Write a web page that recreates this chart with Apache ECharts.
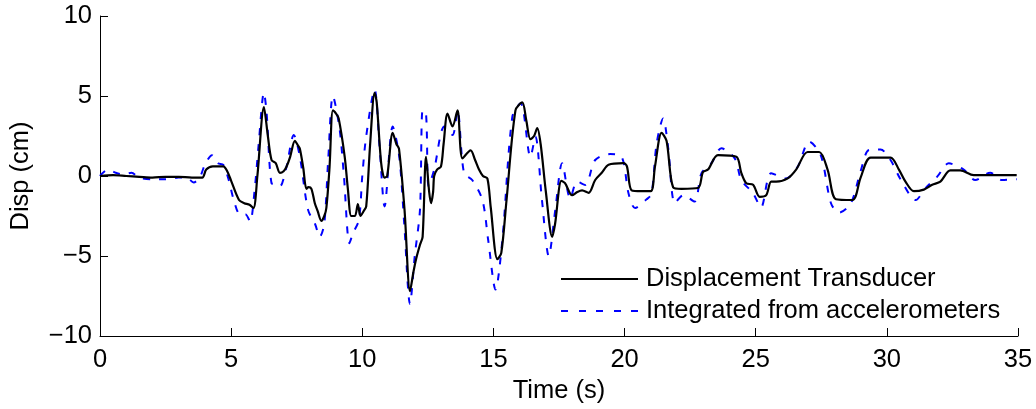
<!DOCTYPE html>
<html>
<head>
<meta charset="utf-8">
<script src="https://cdn.jsdelivr.net/npm/echarts@6/dist/echarts.min.js"></script>
<style>html,body{margin:0;padding:0;background:#fff}#c{width:1036px;height:409px}</style>
</head>
<body>
<div id="c"></div>
<script>
// Displacement Transducer: [time (s), disp (cm)]
const transducer = [
[0,0],[0.5,0.05],[1,0],[1.5,-0.05],[2,-0.1],[2.5,-0.05],[3,-0.05],[3.5,-0.1],[3.9,-0.1],[4.05,0.4],[4.3,0.6],[4.7,0.6],[4.85,0.3],
[5.0,-0.3],[5.3,-1.5],[5.5,-1.7],[5.7,-1.8],[5.85,-2.0],[6.0,0.0],[6.25,4.3],[6.4,2.5],[6.54,1.0],[6.7,0.8],[6.86,0.2],[7.0,0.3],
[7.11,0.58],[7.25,1.2],[7.43,2.2],[7.55,1.9],[7.62,1.7],[7.75,0.5],[7.87,-0.8],[7.95,-0.7],[8.06,-0.8],[8.19,-1.7],[8.3,-2.2],
[8.44,-2.8],[8.55,-2.5],[8.63,-2.0],[8.75,0.5],[8.88,4.1],[9.0,3.9],[9.1,3.6],[9.33,1.2],[9.45,-0.8],[9.58,-2.5],[9.72,-2.5],
[9.83,-1.75],[9.93,-2.5],[10.05,-2.2],[10.15,-1.9],[10.3,2.0],[10.47,5.2],[10.55,4.6],[10.72,0.8],[10.85,-0.1],[10.95,0.0],
[11.16,2.7],[11.3,2.0],[11.4,1.7],[11.61,-2.1],[11.82,-7.2],[11.95,-6.0],[12.05,-5.2],[12.2,-4.3],[12.3,-3.8],[12.43,1.2],
[12.55,-1.0],[12.62,-1.7],[12.7,-1.0],[12.74,0.0],[12.85,0.4],[13.0,0.6],[13.1,2.0],[13.25,3.9],[13.44,3.1],[13.63,4.1],
[13.82,1.1],[14.13,1.6],[14.3,1.0],[14.45,0.4],[14.6,0.0],[14.77,-0.15],[14.9,-2.0],[15.15,-5.2],[15.3,-4.8],[15.5,-1.5],
[15.84,4.1],[16.1,4.6],[16.25,3.5],[16.41,2.3],[16.55,2.5],[16.67,3.0],[16.8,2.0],[17.0,-1.0],[17.24,-3.8],[17.35,-3.0],
[17.59,-0.3],[17.73,-0.45],[18.0,-1.2],[18.2,-1.0],[18.38,-0.9],[18.63,-1.05],[18.88,-0.25],[19.13,0.2],[19.39,0.7],
[19.96,0.8],[20.09,0.6],[20.27,-0.9],[20.65,-0.95],[21.0,-0.95],[21.16,0.6],[21.41,2.7],[21.6,2.2],[21.85,-0.7],[22.17,-0.8],
[22.8,-0.75],[22.99,0.25],[23.18,0.4],[23.56,1.3],[24.26,1.2],[24.45,0.2],[24.64,-0.45],[24.9,-0.55],[25.15,-1.3],[25.4,-1.2],
[25.59,-0.35],[25.78,-0.35],[26.22,-0.15],[26.54,0.4],[26.98,1.5],[27.42,1.5],[27.74,0.4],[28.06,-1.45],[28.69,-1.5],
[29.0,-0.1],[29.38,1.15],[30.14,1.15],[30.46,0.4],[30.71,-0.35],[31.03,-0.95],[31.41,-0.85],[31.73,-0.55],[32.04,-0.35],
[32.42,0.35],[32.8,0.35],[33.31,0.05],[33.81,0.05],[34.95,0.05]
];
// Integrated from accelerometers: [time (s), disp (cm)]
const integrated = [
[0,0],[0.3,0.4],[0.6,0.2],[0.9,0.1],[1.2,0.2],[1.5,-0.1],[2.0,-0.2],[2.5,-0.2],[3.0,-0.1],[3.3,-0.1],[3.57,-0.4],[3.8,-0.1],
[4.0,0.7],[4.27,1.3],[4.5,0.8],[4.7,0.7],[4.9,-0.2],[5.1,-1.5],[5.34,-2.4],[5.55,-2.4],[5.72,-2.85],[5.9,-0.8],[6.05,2.0],
[6.25,5.2],[6.35,4.0],[6.54,-0.45],[6.7,-0.5],[6.86,-0.65],[7.1,0.5],[7.39,2.56],[7.62,1.2],[7.93,-2.1],[8.2,-3.0],[8.38,-3.8],
[8.55,-3.0],[8.7,1.0],[8.88,5.0],[9.13,3.0],[9.3,0.0],[9.51,-4.2],[9.64,-3.6],[9.87,-2.75],[10.0,0.0],[10.15,2.5],[10.47,5.4],
[10.66,1.8],[10.85,-1.9],[11.16,3.1],[11.41,1.2],[11.6,-3.0],[11.82,-8.0],[12.0,-5.0],[12.2,-2.1],[12.3,4.1],[12.43,3.9],
[12.53,-0.65],[12.74,0.4],[13.13,3.1],[13.44,2.56],[13.63,4.1],[13.88,0.17],[14.19,-0.25],[14.58,-1.5],[14.8,-4.0],[15.08,-7.1],
[15.34,-4.0],[15.72,3.7],[16.04,4.54],[16.41,1.2],[16.6,2.46],[16.85,-1.5],[17.11,-5.0],[17.36,-2.1],[17.62,0.8],[17.93,-1.4],
[18.19,-0.35],[18.5,-0.56],[18.88,1.0],[19.45,1.37],[19.89,1.2],[20.15,-1.08],[20.4,-2.0],[20.84,-1.46],[21.03,-1.1],[21.22,2.0],
[21.47,3.6],[21.66,1.8],[21.92,-1.7],[22.24,-1.2],[22.67,-1.6],[22.93,0.17],[23.31,0.8],[23.69,1.73],[24.2,1.1],[24.45,-0.25],
[24.9,-1.08],[25.2,-1.96],[25.59,0.17],[26.16,-0.15],[26.6,0.58],[27.04,2.15],[27.48,1.3],[27.87,-1.7],[28.18,-2.29],[28.63,-1.7],
[29.0,0.3],[29.32,1.62],[29.76,1.65],[30.14,1.0],[30.52,-0.2],[31.1,-1.5],[31.47,-0.77],[31.92,-0.04],[32.36,0.79],[32.93,0.4],
[33.37,-0.25],[33.94,0.2],[34.39,-0.25],[34.95,-0.2]
];
const seriesNames = ['Displacement Transducer', 'Integrated from accelerometers'];
const xTicks = [0, 5, 10, 15, 20, 25, 30, 35];
const yTicks = [-10, -5, 0, 5, 10];

const FONT = 'Liberation Sans, Arial, Helvetica, sans-serif';
const FS = 25.5;
const chart = echarts.init(document.getElementById('c'), null, {renderer: 'canvas'});
const fmt = v => String(v).replace('-', '\u2212');
const solidIcon = 'path://M0,0H77V2H0Z';
const dashIcon = 'path://M0,0H7V2H0Z M18,0H25V2H18Z M35,0H42V2H35Z M53,0H60V2H53Z M70,0H77V2H70Z';
chart.setOption({
  animation: false,
  backgroundColor: '#fff',
  grid: {left: 96, right: 18, top: 16, bottom: 73, containLabel: false},
  xAxis: {
    type: 'value', min: xTicks[0], max: xTicks[xTicks.length - 1], interval: 5,
    name: 'Time (s)', nameLocation: 'middle', nameGap: 40,
    nameTextStyle: {color: '#000', fontSize: FS, fontFamily: FONT},
    axisLine: {show: true, onZero: false, lineStyle: {color: '#000', width: 1}},
    axisTick: {show: true, inside: true, length: 8, lineStyle: {color: '#000'}},
    axisLabel: {color: '#000', fontSize: FS, fontFamily: FONT, margin: 11, formatter: fmt},
    splitLine: {show: false}
  },
  yAxis: {
    type: 'value', min: yTicks[0], max: yTicks[yTicks.length - 1], interval: 5,
    name: 'Disp (cm)', nameLocation: 'middle', nameGap: 66,
    nameTextStyle: {color: '#000', fontSize: FS, fontFamily: FONT},
    axisLine: {show: true, onZero: false, lineStyle: {color: '#000', width: 1}},
    axisTick: {show: true, inside: true, length: 8, lineStyle: {color: '#000'}},
    axisLabel: {color: '#000', fontSize: FS, fontFamily: FONT, margin: 8, formatter: fmt},
    splitLine: {show: false}
  },
  legend: {
    orient: 'vertical', left: 561, top: 266, padding: 0, itemWidth: 77, itemHeight: 2, itemGap: 6,
    textStyle: {color: '#000', fontSize: FS, fontFamily: FONT, lineHeight: 26, padding: [0, 0, 0, 3]},
    data: [
      {name: seriesNames[0], icon: solidIcon, itemStyle: {color: '#000'}},
      {name: seriesNames[1], icon: dashIcon, itemStyle: {color: '#0000ff'}}
    ]
  },
  series: [
    {name: seriesNames[1], type: 'line', data: integrated, showSymbol: false, symbol: 'none', smooth: 0.3,
     lineStyle: {color: '#0000ff', width: 2, type: [7, 9]}, itemStyle: {color: '#0000ff'}, z: 2},
    {name: seriesNames[0], type: 'line', data: transducer, showSymbol: false, symbol: 'none', smooth: 0.3,
     lineStyle: {color: '#000', width: 2.2}, itemStyle: {color: '#000'}, z: 3}
  ]
});
</script>
</body>
</html>
